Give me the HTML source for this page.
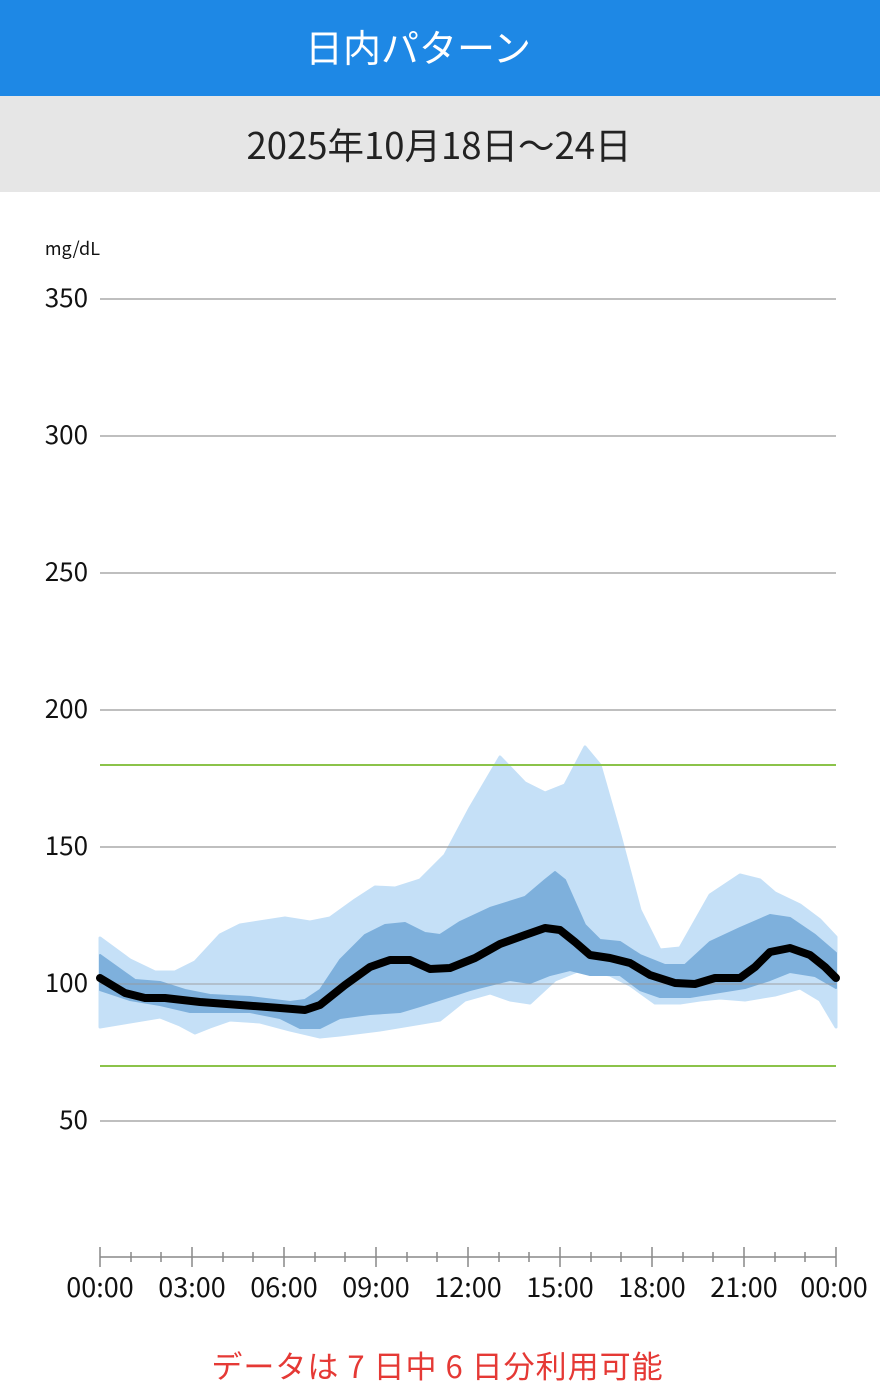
<!DOCTYPE html>
<html><head><meta charset="utf-8"><style>
body{margin:0;width:880px;height:1400px;background:#fff;font-family:"Noto Sans CJK JP",sans-serif;position:relative;overflow:hidden}
.h1{position:absolute;left:0;top:0;width:880px;height:96px;background:#1e88e5;color:#fff;font-size:38px;text-align:center;line-height:92px;text-indent:-44px}
.h2{position:absolute;left:0;top:96px;width:880px;height:96px;background:#e6e6e6;color:#222;font-size:36.5px;text-align:center;line-height:96px;text-indent:-2px}
.ft{position:absolute;left:0;top:1341px;width:880px;text-align:center;color:#e53935;font-size:31px;line-height:48px;text-indent:-5px;letter-spacing:1px}
</style></head><body>
<div class="h1">日内パターン</div>
<div class="h2">2025年10月18日～24日</div>
<svg width="880" height="1400" style="position:absolute;left:0;top:0">
<g font-family="Noto Sans CJK JP, sans-serif" font-size="26" fill="#111" text-anchor="end">
<text x="100" y="255" font-size="18" text-anchor="end">mg/dL</text>
<text x="88" y="307">350</text><text x="88" y="444">300</text><text x="88" y="581">250</text>
<text x="88" y="718">200</text><text x="88" y="855">150</text><text x="88" y="992">100</text><text x="88" y="1129">50</text>
</g>
<path fill="#c5e0f7" stroke="#c5e0f7" stroke-width="3" stroke-linejoin="round" d="M100,938 L130,960 155,972 175,972 195,962 220,935 240,925 285,918 310,922 330,918 355,900 375,887 395,888 420,880 445,855 470,808 500,757 525,783 545,793 565,785 585,747 600,765 620,835 640,910 660,950 680,948 710,895 740,875 760,880 775,893 800,905 820,920 836,937 L836,1027 820,1000 800,988 775,995 745,1000 720,998 700,1000 680,1003 655,1003 630,985 610,975 580,970 555,980 530,1003 510,1000 490,993 465,1000 440,1020 410,1025 380,1030 340,1035 320,1037 290,1030 260,1022 230,1020 210,1027 195,1033 180,1025 160,1017 130,1022 100,1027Z"/>
<path fill="#7eb0dc" stroke="#7eb0dc" stroke-width="2" stroke-linejoin="round" d="M100,955 L135,980 160,982 185,990 210,995 250,997 290,1002 305,1000 320,990 340,960 365,935 385,925 405,923 425,933 440,935 460,922 490,908 525,897 545,880 555,872 565,880 585,925 600,940 620,942 640,955 665,965 685,965 710,942 740,928 770,915 790,918 815,935 836,953 L836,988 815,976 790,972 770,980 745,988 720,992 690,997 660,997 640,990 620,975 590,975 570,970 550,975 530,983 510,980 490,985 470,990 445,998 420,1006 400,1012 370,1014 340,1018 320,1028 300,1028 280,1018 250,1012 220,1012 190,1012 160,1005 130,1000 100,990Z"/>
<g stroke="#999" stroke-width="1.2">
<line x1="100" x2="836" y1="299" y2="299"/><line x1="100" x2="836" y1="436" y2="436"/><line x1="100" x2="836" y1="573" y2="573"/>
<line x1="100" x2="836" y1="710" y2="710"/><line x1="100" x2="836" y1="847" y2="847"/><line x1="100" x2="836" y1="984" y2="984" opacity="0.7"/><line x1="100" x2="836" y1="1121" y2="1121"/>
</g>
<line x1="100" x2="836" y1="765" y2="765" stroke="#8bc34a" stroke-width="2"/>
<line x1="100" x2="836" y1="1066" y2="1066" stroke="#8bc34a" stroke-width="2"/>
<polyline fill="none" stroke="#000" stroke-width="8" stroke-linejoin="round" stroke-linecap="round" points="100,978 125,993 145,998 165,998 200,1002 240,1005 280,1008 305,1010 320,1005 345,985 370,967 390,960 410,960 430,969 450,968 475,958 500,944 525,935 545,928 560,930 575,942 590,955 610,958 630,963 650,975 675,983 695,984 715,978 740,978 755,967 770,952 790,948 810,955 825,967 836,978"/>
<g stroke="#888" stroke-width="1.5">
<line x1="100" x2="836" y1="1257" y2="1257"/>
<line x1="100" x2="100" y1="1247" y2="1267"/><line x1="192" x2="192" y1="1247" y2="1267"/><line x1="284" x2="284" y1="1247" y2="1267"/><line x1="376" x2="376" y1="1247" y2="1267"/><line x1="468" x2="468" y1="1247" y2="1267"/><line x1="560" x2="560" y1="1247" y2="1267"/><line x1="652" x2="652" y1="1247" y2="1267"/><line x1="744" x2="744" y1="1247" y2="1267"/><line x1="836" x2="836" y1="1247" y2="1267"/>
<line x1="131" x2="131" y1="1252" y2="1262"/><line x1="161" x2="161" y1="1252" y2="1262"/><line x1="223" x2="223" y1="1252" y2="1262"/><line x1="253" x2="253" y1="1252" y2="1262"/><line x1="315" x2="315" y1="1252" y2="1262"/><line x1="345" x2="345" y1="1252" y2="1262"/><line x1="407" x2="407" y1="1252" y2="1262"/><line x1="437" x2="437" y1="1252" y2="1262"/><line x1="499" x2="499" y1="1252" y2="1262"/><line x1="529" x2="529" y1="1252" y2="1262"/><line x1="591" x2="591" y1="1252" y2="1262"/><line x1="621" x2="621" y1="1252" y2="1262"/><line x1="683" x2="683" y1="1252" y2="1262"/><line x1="713" x2="713" y1="1252" y2="1262"/><line x1="775" x2="775" y1="1252" y2="1262"/><line x1="805" x2="805" y1="1252" y2="1262"/>
</g>
<g font-family="Noto Sans CJK JP, sans-serif" font-size="27" fill="#111" text-anchor="middle">
<text x="100" y="1297">00:00</text><text x="192" y="1297">03:00</text><text x="284" y="1297">06:00</text><text x="376" y="1297">09:00</text><text x="468" y="1297">12:00</text><text x="560" y="1297">15:00</text><text x="652" y="1297">18:00</text><text x="744" y="1297">21:00</text><text x="834" y="1297">00:00</text>
</g>
</svg>
<div class="ft">データは 7 日中 6 日分利用可能</div>
</body></html>
